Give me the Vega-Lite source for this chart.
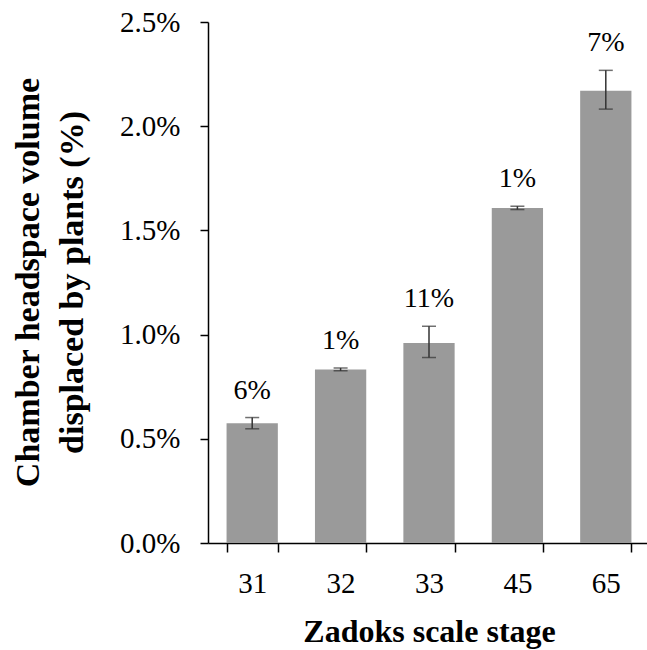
{
  "$schema": "https://vega.github.io/schema/vega-lite/v6.json",
  "autosize": "none",
  "padding": {"left": 208, "top": 22, "right": 0, "bottom": 107},
  "width": 442,
  "height": 521,
  "background": "white",
  "config": {
    "view": {"stroke": null},
    "font": "Liberation Serif",
    "style": {"guide-title": {"lineBreak": "\n"}}
  },
  "resolve": {"axis": {"y": "independent"}},
  "data": {
    "values": [
      {"stage": "31", "value": 0.00575, "lo": 0.00548, "hi": 0.00602, "cv": "6%"},
      {"stage": "32", "value": 0.00833, "lo": 0.00826, "hi": 0.0084, "cv": "1%"},
      {"stage": "33", "value": 0.00960, "lo": 0.0089, "hi": 0.0104, "cv": "11%"},
      {"stage": "45", "value": 0.01608, "lo": 0.01600, "hi": 0.01616, "cv": "1%"},
      {"stage": "65", "value": 0.02170, "lo": 0.02082, "hi": 0.02268, "cv": "7%"}
    ]
  },
  "encoding": {
    "x": {
      "field": "stage",
      "type": "ordinal",
      "sort": null,
      "scale": {"paddingInner": 0.42, "paddingOuter": 0.21},
      "axis": {
        "title": "Zadoks scale stage",
        "titleFont": "Liberation Serif",
        "titleFontSize": 32,
        "titleFontWeight": "bold",
        "titleColor": "#000",
        "titlePadding": 18,
        "labelFont": "Liberation Serif",
        "labelFontSize": 29,
        "labelColor": "#000",
        "labelAngle": 0,
        "labelPadding": 17,
        "tickBand": "extent",
        "tickSize": 9,
        "tickColor": "#000",
        "tickWidth": 1.5,
        "domainColor": "#000",
        "domainWidth": 1.5,
        "grid": false
      }
    }
  },
  "layer": [
    {
      "mark": {"type": "bar", "color": "#9a9a9a"},
      "encoding": {
        "y": {
          "field": "value",
          "type": "quantitative",
          "scale": {"domain": [0, 0.025], "nice": false},
          "axis": {
            "title": "Chamber headspace volume\ndisplaced by plants (%)",
            "titleFont": "Liberation Serif",
            "titleFontSize": 34,
            "titleFontWeight": "bold",
            "titleColor": "#000",
            "titleAlign": "center",
            "titleBaseline": "top",
            "titleAngle": -90,
            "titleX": -197,
            "titleY": 260,
            "titleLineHeight": 44,
            "values": [0, 0.005, 0.01, 0.015, 0.02, 0.025],
            "format": ".1%",
            "labelFont": "Liberation Serif",
            "labelFontSize": 29,
            "labelColor": "#000",
            "labelPadding": 20,
            "tickSize": 8,
            "tickColor": "#000",
            "tickWidth": 1.5,
            "domainColor": "#000",
            "domainWidth": 1.5,
            "grid": false
          }
        }
      }
    },
    {
      "mark": {
        "type": "errorbar",
        "ticks": {"size": 14, "thickness": 1.5, "color": "#333333"},
        "rule": {"strokeWidth": 1.5, "color": "#333333"}
      },
      "encoding": {
        "y": {"field": "lo", "type": "quantitative", "axis": null},
        "y2": {"field": "hi"}
      }
    },
    {
      "mark": {
        "type": "text",
        "font": "Liberation Serif",
        "fontSize": 28,
        "color": "#000",
        "baseline": "alphabetic",
        "dy": -19
      },
      "encoding": {
        "y": {"field": "hi", "type": "quantitative", "axis": null},
        "text": {"field": "cv", "type": "nominal"}
      }
    }
  ]
}
